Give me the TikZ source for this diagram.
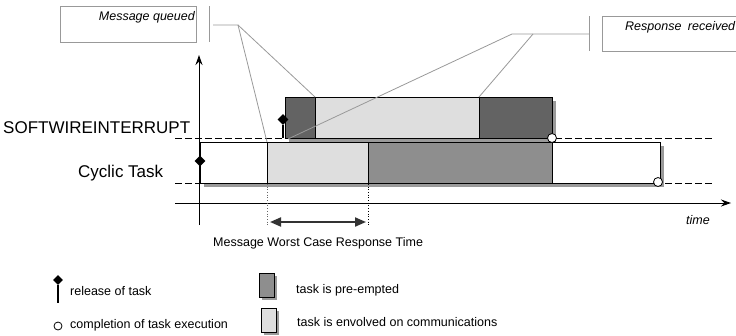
\documentclass[tikz,border=0pt]{standalone}
\usepackage{fontspec}
\setmainfont{Liberation Sans}
\usetikzlibrary{shapes.geometric,shadows,arrows.meta}
\definecolor{darkc}{HTML}{636363}
\definecolor{lightc}{HTML}{DEDEDE}
\definecolor{midc}{HTML}{8E8E8E}
\definecolor{shadc}{HTML}{9A9A9A}
\definecolor{callc}{HTML}{999999}
\definecolor{arrc}{HTML}{333333}
\begin{document}
\begin{tikzpicture}[x=1pt,y=-1pt,
  taskbox/.style={draw=black, line width=0.8pt, inner sep=0pt, anchor=north west, minimum height=41pt,
    general shadow={fill=shadc, shadow xshift=4pt, shadow yshift=-4pt}},
  lgbox/.style={draw=black, line width=0.8pt, inner sep=0pt, anchor=north west, minimum width=15pt, minimum height=24pt,
    general shadow={fill=shadc, shadow xshift=3pt, shadow yshift=-3pt}},
  lbl/.style={inner sep=0pt, anchor=base west, font=\fontsize{17}{20}\selectfont},
  sm/.style={inner sep=0pt, anchor=base west, font=\fontsize{12.5}{15}\selectfont},
  smit/.style={inner sep=0pt, anchor=base west, font=\fontsize{12.5}{15}\selectfont\itshape},
  calline/.style={draw=callc, line width=0.8pt},
  calbox/.style={draw=callc, line width=0.8pt, inner sep=0pt, anchor=north west},
  rel/.style={diamond, fill=black, inner sep=0pt, minimum size=11pt},
  done/.style={circle, draw=black, fill=white, inner sep=0pt, minimum size=9pt, line width=0.8pt},
  lvline/.style={dash pattern=on 7pt off 3pt, line width=0.8pt},
  axisline/.style={line width=1pt, -{Stealth[length=10pt,width=7pt]}},
]
\useasboundingbox (0,0) rectangle (736,335);
\clip (0,0) rectangle (736,335);

% level lines
\coordinate (sl) at (175,138); \coordinate (sr) at (712,138);
\coordinate (cl) at (175,183); \coordinate (cr) at (712,183);
\draw[lvline] (sl) -- (sr);
\draw[lvline] (cl) -- (cr);

% upper row (SOFTWIREINTERRUPT)
\node[taskbox, fill=darkc, minimum width=30pt] (u1) at (285,97) {};
\node[taskbox, fill=lightc, minimum width=164pt] (u2) at (315,97) {};
\node[taskbox, fill=darkc, minimum width=73pt] (u3) at (479,97) {};

% cyclic row
\node[taskbox, fill=white, minimum width=67pt] (c0) at (200,142) {};
\node[taskbox, fill=lightc, minimum width=101pt] (c1) at (267,142) {};
\node[taskbox, fill=midc, minimum width=184pt] (c2) at (368,142) {};
\node[taskbox, fill=white, minimum width=108pt] (c3) at (552,142) {};

% axes
\coordinate (yb) at (199,225); \coordinate (yt) at (199,55);
\draw[axisline] (yb) -- (yt);
\coordinate (tl) at (175,203); \coordinate (tr) at (731,203);
\draw[axisline] (tl) -- (tr);

% labels
\node[lbl] (lsw) at (3,133.5) {SOFTWIREINTERRUPT};
\node[lbl] (lcy) at (78,177) {Cyclic Task};
\node[smit] (ltime) at (686,224) {time};

% callouts
\node[calbox, minimum width=136pt, minimum height=36pt] (mqbox) at (60,6) {};
\node[smit, anchor=base east] (mqt) at (195,20.7) {Message queued};
\coordinate (mqa) at (209,6); \coordinate (mqb) at (209,42);
\draw[calline] (mqa) -- (mqb);
\coordinate (mqh) at (213,25); \coordinate (mqk) at (238,25);
\draw[calline] (mqh) -- (mqk) -- (c1.north west);
\draw[calline] (mqk) -- (u2.north west);

\node[calbox, minimum width=160pt, minimum height=35pt] (rrbox) at (602,16) {};
\node[smit] (rrt) at (625,30) {Response\hspace{3pt} received};
\coordinate (rra) at (589,16); \coordinate (rrb) at (589,51);
\draw[calline] (rra) -- (rrb);
\coordinate (rrh) at (589,34); \coordinate (rrk) at (512,34); \coordinate (rre) at (288,139);
\draw[calline] (rrh) -- (rrk) -- (rre);
\coordinate (rrm) at (533,34);
\draw[calline] (rrm) -- (u3.north west);

% release markers and completions
\node[rel] (r1) at (283,119.5) {};
\coordinate (r1b) at (283,138);
\draw[line width=2.2pt] (r1.south) -- (r1b);
\node[rel] (r2) at (200,161) {};
\coordinate (r2b) at (200,183);
\draw[line width=2.2pt] (r2.south) -- (r2b);
\node[done] (e1) at (552,138) {};
\node[done] (e2) at (658,182) {};

% worst case response time
\coordinate (d1b) at (267,225); \coordinate (d2b) at (368,225);
\draw[dotted, line width=0.7pt, draw=black!60] (c1.south west) -- (d1b);
\draw[dotted, line width=0.7pt] (c2.south west) -- (d2b);
\coordinate (wa) at (270,222); \coordinate (wb) at (366,222);
\draw[line width=2pt, draw=arrc, {Triangle[length=11pt,width=9pt]}-{Triangle[length=11pt,width=9pt]}] (wa) -- (wb);
\node[sm] (lwc) at (213,246) {Message Worst Case Response Time};

% legend
\node[rel, minimum size=10pt] (lr) at (58,280) {};
\coordinate (lrb) at (58,303);
\draw[line width=2pt] (lr.south) -- (lrb);
\node[sm] (lrt) at (70,295) {release of task};
\node[done, minimum size=8pt] (lc) at (58,326) {};
\node[sm] (lct) at (70,328) {completion of task execution};
\node[lgbox, fill=midc] (lb1) at (259,273) {};
\node[sm] (lb1t) at (296,293.3) {task is pre-empted};
\node[lgbox, fill=lightc] (lb2) at (261,308) {};
\node[sm] (lb2t) at (297,326.7) {task is envolved on communications};
\end{tikzpicture}
\end{document}
